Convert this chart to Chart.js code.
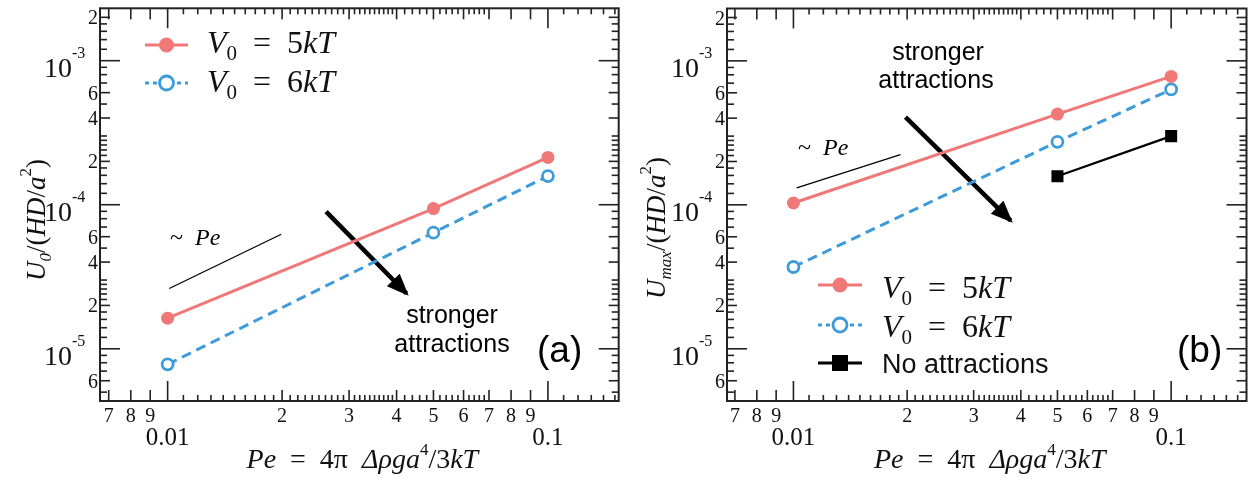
<!DOCTYPE html>
<html>
<head>
<meta charset="utf-8">
<script src="https://cdn.jsdelivr.net/npm/chart.js@4.4.1/dist/chart.umd.min.js"></script>
<style>
  html, body { margin: 0; padding: 0; background: #fff; }
  #wrap { position: relative; width: 1255px; height: 480px; }
  .panel { position: absolute; top: 0; height: 480px; }
</style>
</head>
<body>
<div id="wrap">
  <div class="panel" style="left:0;width:627px"><canvas id="chartA"></canvas></div>
  <div class="panel" style="left:627px;width:628px"><canvas id="chartB"></canvas></div>
</div>
<script>
// ── data ───────────────────────────────────────────────────────────
var pe          = [0.01, 0.05, 0.1];
var u0V5        = [1.63e-5, 9.4e-5, 2.13e-4];
var u0V6        = [7.8e-6, 6.4e-5, 1.58e-4];
var umaxV5      = [1.03e-4, 4.27e-4, 7.8e-4];
var umaxV6      = [3.7e-5, 2.74e-4, 6.33e-4];
var peNoAttr    = [0.05, 0.1];
var umaxNoAttr  = [1.58e-4, 3.0e-4];

// "~ Pe" guide segments and the "stronger attractions" arrows (data units)
var guideAx = [0.0101, 0.0199],  guideAy = [2.62e-5, 6.24e-5];
var arrowAx = [0.0261, 0.0425],  arrowAy = [8.95e-5, 2.42e-5];
var guideBx = [0.0102, 0.0192],  guideBy = [1.31e-4, 2.23e-4];
var arrowBx = [0.0198, 0.0376],  arrowBy = [4.07e-4, 7.77e-5];

// ── axis ticks ─────────────────────────────────────────────────────
var xMajorTicks  = [0.01, 0.1];
var xLabelTicks  = [0.007, 0.008, 0.009, 0.02, 0.03, 0.04, 0.05, 0.06, 0.07, 0.08, 0.09];
var xLabelText   = ['7', '8', '9', '2', '3', '4', '5', '6', '7', '8', '9'];
var xMajorText   = ['0.01', '0.1'];
var xMinorTicks  = [0.011, 0.012, 0.013, 0.014, 0.015, 0.016, 0.017, 0.018, 0.019,
                    0.021, 0.022, 0.023, 0.024, 0.025, 0.026, 0.027, 0.028, 0.029,
                    0.031, 0.032, 0.033, 0.034, 0.035, 0.036, 0.037, 0.038, 0.039,
                    0.042, 0.044, 0.046, 0.048, 0.052, 0.054, 0.056, 0.058,
                    0.062, 0.064, 0.066, 0.068, 0.11, 0.12, 0.13, 0.14, 0.15];
var yMajorTicks  = [1e-5, 1e-4, 1e-3];
var yMajorExp    = ['-5', '-4', '-3'];
var yLabelTicks  = [6e-6, 2e-5, 4e-5, 6e-5, 2e-4, 4e-4, 6e-4, 2e-3];
var yLabelText   = ['6', '2', '4', '6', '2', '4', '6', '2'];
var yMinorTicks  = [5e-6, 7e-6, 8e-6, 9e-6,
                    1.2e-5, 1.4e-5, 1.6e-5, 1.8e-5, 2.2e-5, 2.4e-5, 2.6e-5, 2.8e-5, 3e-5, 5e-5, 7e-5, 8e-5, 9e-5,
                    1.2e-4, 1.4e-4, 1.6e-4, 1.8e-4, 2.2e-4, 2.4e-4, 2.6e-4, 2.8e-4, 3e-4, 5e-4, 7e-4, 8e-4, 9e-4,
                    1.2e-3, 1.4e-3, 1.6e-3, 1.8e-3];

var PINK  = '#F07878';
var BLUE  = '#3E9BDA';
var AXIS  = '#222';
var SERIF = "'Liberation Serif', 'DejaVu Serif', serif";
var SANS  = "'Liberation Sans', Arial, sans-serif";
function I(s){ return 'italic ' + s + 'px ' + SERIF; }
function R(s){ return s + 'px ' + SERIF; }

function zip(xs, ys){ return xs.map(function(v, i){ return {x: v, y: ys[i]}; }); }

// draw a row of [text, font, dy] runs starting at x (or centred on x)
function drawRuns(ctx, x, y, runs, align) {
  var w = 0;
  runs.forEach(function(r){ ctx.font = r[1]; w += ctx.measureText(r[0]).width; });
  var cx = align === 'center' ? x - w / 2 : (align === 'right' ? x - w : x);
  ctx.textAlign = 'left';
  ctx.textBaseline = 'alphabetic';
  runs.forEach(function(r){
    ctx.font = r[1];
    ctx.fillText(r[0], cx, y + (r[2] || 0));
    cx += ctx.measureText(r[0]).width;
  });
}

function vRuns(n) {
  return [['V', I(32)], ['0', R(21), 7], ['\u2002=\u2002' + n, R(32)], ['kT', I(32)]];
}

var xTitleRuns = [['Pe', I(28)], ['\u2002=\u20024\u03C0\u2002', R(28)], ['\u0394\u03C1ga', I(28)],
                  ['4', R(17), -13], ['/3', R(28)], ['kT', I(28)]];

// frame, ticks, labels, titles, legend and notes for one panel
function paperPlugin(cfg) {
  return {
    id: 'paper',
    afterDatasetsDraw: function(chart) {
      var ctx = chart.ctx;
      chart.data.datasets.forEach(function(ds, i){
        if (!ds.arrow) return;
        var pts = chart.getDatasetMeta(i).data;
        var p0 = pts[0], p1 = pts[pts.length - 1];
        var dx = p1.x - p0.x, dy = p1.y - p0.y, len = Math.sqrt(dx*dx + dy*dy);
        var ux = dx / len, uy = dy / len;
        var tx = p1.x + ux * 3, ty = p1.y + uy * 3;
        var bx = tx - ux * 22, by = ty - uy * 22;
        ctx.save();
        ctx.fillStyle = '#000';
        ctx.beginPath();
        ctx.moveTo(tx, ty);
        ctx.lineTo(bx - uy * 9, by + ux * 9);
        ctx.lineTo(bx + uy * 9, by - ux * 9);
        ctx.closePath();
        ctx.fill();
        ctx.restore();
      });
    },
    afterDraw: function(chart) {
      var ctx = chart.ctx, a = chart.chartArea;
      var xs = chart.scales.x, ys = chart.scales.y;
      ctx.save();
      ctx.strokeStyle = AXIS;
      ctx.fillStyle = AXIS;
      ctx.lineWidth = 1.6;
      function seg(x0, y0, x1, y1){ ctx.beginPath(); ctx.moveTo(x0, y0); ctx.lineTo(x1, y1); ctx.stroke(); }
      function xTicks(vals, len){
        vals.forEach(function(v){
          var px = xs.getPixelForValue(v);
          if (px <= a.left + 1 || px >= a.right - 1) return;
          seg(px, a.bottom, px, a.bottom - len);
          seg(px, a.top, px, a.top + len);
        });
      }
      function yTicks(vals, len){
        vals.forEach(function(v){
          var py = ys.getPixelForValue(v);
          if (py <= a.top + 1 || py >= a.bottom - 1) return;
          seg(a.left, py, a.left + len, py);
          seg(a.right, py, a.right - len, py);
        });
      }
      xTicks(xMinorTicks, 6); xTicks(xLabelTicks, 11); xTicks(xMajorTicks, 20);
      yTicks(yMinorTicks, 7); yTicks(yLabelTicks, 10); yTicks(yMajorTicks, 20);
      ctx.lineWidth = 2;
      ctx.strokeRect(a.left, a.top, a.right - a.left, a.bottom - a.top);

      // tick labels
      ctx.fillStyle = '#111';
      ctx.textBaseline = 'alphabetic';
      ctx.textAlign = 'center';
      ctx.font = R(20);
      xLabelTicks.forEach(function(v, i){ ctx.fillText(xLabelText[i], xs.getPixelForValue(v), a.bottom + 21); });
      ctx.font = R(25);
      xMajorTicks.forEach(function(v, i){ ctx.fillText(xMajorText[i], xs.getPixelForValue(v), a.bottom + 44); });
      ctx.textAlign = 'right';
      ctx.font = R(20);
      yLabelTicks.forEach(function(v, i){ ctx.fillText(yLabelText[i], a.left - 2, ys.getPixelForValue(v) + 7); });
      yMajorTicks.forEach(function(v, i){
        var py = ys.getPixelForValue(v);
        ctx.textAlign = 'right'; ctx.font = R(28);
        ctx.fillText('10', a.left - 28, py + 16);
        ctx.textAlign = 'left'; ctx.font = R(16);
        ctx.fillText(yMajorExp[i], a.left - 28, py - 3);
      });

      // axis titles
      drawRuns(ctx, (a.left + a.right) / 2 + 3, 468, xTitleRuns, 'center');
      ctx.save();
      ctx.translate(cfg.yTitleX, cfg.yTitleY);
      ctx.rotate(-Math.PI / 2);
      drawRuns(ctx, 0, 0, cfg.yTitleRuns, 'center');
      ctx.restore();

      // legend: line sample, marker, math label
      cfg.legend.forEach(function(e){
        var ds = chart.data.datasets[e.ds];
        var mx = (e.x0 + e.x1) / 2;
        ctx.save();
        ctx.strokeStyle = ds.borderColor;
        ctx.lineWidth = 3;
        ctx.setLineDash(e.dash || []);
        seg(e.x0, e.y, e.x1, e.y);
        ctx.setLineDash([]);
        ctx.fillStyle = ds.pointBackgroundColor || ds.borderColor;
        ctx.lineWidth = ds.pointBorderWidth || 0;
        ctx.beginPath();
        if (ds.pointStyle === 'rect') {
          ctx.rect(mx - e.r, e.y - e.r, 2 * e.r, 2 * e.r);
        } else {
          ctx.arc(mx, e.y, e.r, 0, Math.PI * 2);
        }
        ctx.fill();
        if (ds.pointBorderWidth) ctx.stroke();
        ctx.restore();
        ctx.fillStyle = '#111';
        drawRuns(ctx, e.tx, e.ty, e.runs, 'left');
      });

      // notes
      ctx.fillStyle = '#000';
      cfg.notes.forEach(function(n){ drawRuns(ctx, n.x, n.y, n.runs, n.align); });
      ctx.restore();
    }
  };
}

function makeChart(id, datasets, xMin, xMax, rightPad, cfg) {
  return new Chart(document.getElementById(id).getContext('2d'), {
    type: 'line',
    data: { datasets: datasets },
    options: {
      responsive: true,
      maintainAspectRatio: false,
      animation: false,
      layout: { padding: { left: 100, right: rightPad, top: 3, bottom: 79 } },
      plugins: { legend: { display: false }, tooltip: { enabled: false } },
      elements: { line: { tension: 0 } },
      scales: {
        x: { type: 'logarithmic', min: xMin, max: xMax, display: false },
        y: { type: 'logarithmic', min: 4.34e-6, max: 2.31e-3, display: false }
      }
    },
    plugins: [paperPlugin(cfg)]
  });
}

function v5Set(data) {
  return { data: data, borderColor: PINK, backgroundColor: PINK, pointBackgroundColor: PINK,
           borderWidth: 3, pointRadius: 6.5, pointBorderWidth: 0 };
}
function v6Set(data) {
  return { data: data, borderColor: BLUE, backgroundColor: '#fff', pointBackgroundColor: '#fff',
           borderWidth: 3, borderDash: [10, 6], pointRadius: 5.5, pointBorderWidth: 2.8 };
}
function blackLine(data, w, arrow) {
  return { data: data, borderColor: '#000', borderWidth: w, pointRadius: 0, arrow: !!arrow };
}

// ── panel (a) ──────────────────────────────────────────────────────
makeChart('chartA', [
  v5Set(zip(pe, u0V5)),
  v6Set(zip(pe, u0V6)),
  blackLine(zip(guideAx, guideAy), 1.3),
  blackLine(zip(arrowAx, arrowAy), 4.5, true)
], 0.00664, 0.1535, 6, {
  yTitleX: 45, yTitleY: 220,
  yTitleRuns: [['U', I(27)], ['0', I(17), 6], ['/(', R(27)], ['HD', I(27)], ['/', R(27)],
               ['a', I(27)], ['2', R(17), -14], [')', R(27)]],
  legend: [
    { ds: 0, x0: 145, x1: 188, y: 45, r: 7.5, tx: 207, ty: 53, runs: vRuns('5') },
    { ds: 1, x0: 145, x1: 188, y: 83, r: 7, dash: [4, 4], tx: 207, ty: 92, runs: vRuns('6') }
  ],
  notes: [
    { x: 170, y: 245, align: 'left', runs: [['~\u2002', R(24)], ['Pe', I(24)]] },
    { x: 452, y: 323, align: 'center', runs: [['stronger', '25px ' + SANS]] },
    { x: 452, y: 352, align: 'center', runs: [['attractions', '25px ' + SANS]] },
    { x: 537, y: 362, align: 'left', runs: [['(a)', '37px ' + SANS]] }
  ]
});

// ── panel (b) ──────────────────────────────────────────────────────
makeChart('chartB', [
  v5Set(zip(pe, umaxV5)),
  v6Set(zip(pe, umaxV6)),
  { data: zip(peNoAttr, umaxNoAttr), borderColor: '#000', backgroundColor: '#000', pointBackgroundColor: '#000',
    borderWidth: 2.2, pointStyle: 'rect', pointRadius: 8.5, pointBorderWidth: 0 },
  blackLine(zip(guideBx, guideBy), 1.3),
  blackLine(zip(arrowBx, arrowBy), 4.5, true)
], 0.00667, 0.1583, 4, {
  yTitleX: 38, yTitleY: 228,
  yTitleRuns: [['U', I(27)], ['max', I(17), 6], ['/(', R(27)], ['HD', I(27)], ['/', R(27)],
               ['a', I(27)], ['2', R(17), -14], [')', R(27)]],
  legend: [
    { ds: 0, x0: 191, x1: 235, y: 285, r: 7.5, tx: 255, ty: 298, runs: vRuns('5') },
    { ds: 1, x0: 191, x1: 235, y: 325, r: 7, dash: [4, 4], tx: 255, ty: 337, runs: vRuns('6') },
    { ds: 2, x0: 191, x1: 235, y: 363, r: 8, tx: 255, ty: 373, runs: [['No attractions', '27px ' + SANS]] }
  ],
  notes: [
    { x: 171, y: 155, align: 'left', runs: [['~\u2002', R(24)], ['Pe', I(24)]] },
    { x: 311, y: 60, align: 'center', runs: [['stronger', '25px ' + SANS]] },
    { x: 309, y: 88, align: 'center', runs: [['attractions', '25px ' + SANS]] },
    { x: 550, y: 362, align: 'left', runs: [['(b)', '37px ' + SANS]] }
  ]
});
</script>
</body>
</html>
